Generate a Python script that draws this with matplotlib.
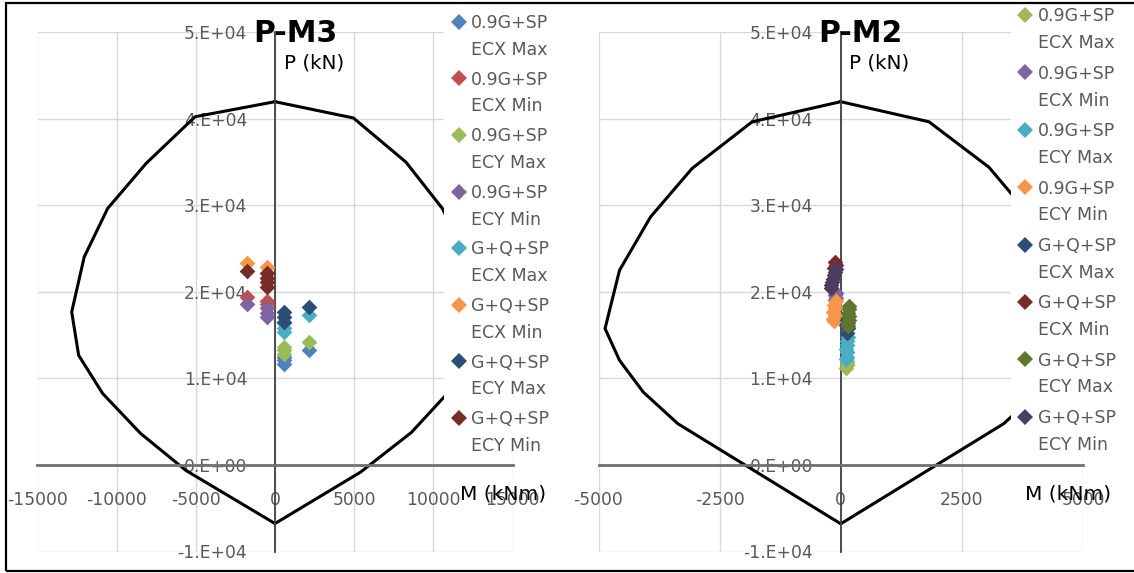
import matplotlib
matplotlib.use("Agg")
import matplotlib.pyplot as plt
from matplotlib.lines import Line2D
from matplotlib.patches import Rectangle

# ---------------- data ----------------
P_TICKS = [-10000, 0, 10000, 20000, 30000, 40000, 50000]
P_LABELS = ["-1.E+04", "0.E+00", "1.E+04", "2.E+04", "3.E+04", "4.E+04", "5.E+04"]

M3_TICKS = [-15000, -10000, -5000, 0, 5000, 10000, 15000]
M3_LABELS = ["-15000", "-10000", "-5000", "0", "5000", "10000", "15000"]
M2_TICKS = [-5000, -2500, 0, 2500, 5000]
M2_LABELS = ["-5000", "-2500", "0", "2500", "5000"]

# interaction curves
M3_curve_M = [0, 4950, 8270, 10570, 12050, 12840, 12400, 10890, 8610, 5400, 0,
              -5620, -8490, -10890, -12400, -12840, -12050, -10570, -8140, -5050, 0]
M3_curve_P = [41980, 40100, 35000, 29640, 24040, 17680, 12670, 8270, 3750, -830, -6770,
              -640, 3640, 8270, 12670, 17680, 24040, 29640, 34850, 40240, 41980]

M2_curve_M = [0, 1820, 3060, 3925, 4566, 4865, 4566, 4076, 3363, 0,
              -3363, -4076, -4566, -4865, -4566, -3925, -3068, -1828, 0]
M2_curve_P = [41980, 39660, 34400, 28670, 22500, 15760, 12090, 8420, 4770, -6800,
              4770, 8420, 12090, 15760, 22500, 28670, 34270, 39660, 41980]

# series names
labels_line1 = ["0.9G+SP", "0.9G+SP", "0.9G+SP", "0.9G+SP",
                "G+Q+SP", "G+Q+SP", "G+Q+SP", "G+Q+SP"]
labels_line2 = ["ECX Max", "ECX Min", "ECY Max", "ECY Min",
                "ECX Max", "ECX Min", "ECY Max", "ECY Min"]

# P-M3 points
M3_pts_M = [
    [560, 560, 560, 2130],
    [-1800, -490, -490],
    [560, 560, 560, 2130],
    [-1800, -490, -490, -490],
    [560, 560, 560, 2130],
    [-1800, -490],
    [560, 560, 560, 2130],
    [-1800, -490, -490, -490, -490],
]
M3_pts_P = [
    [12500, 12100, 11700, 13250],
    [19400, 19000, 18600],
    [13650, 13250, 12850, 14200],
    [18650, 18150, 17600, 17100],
    [16350, 15850, 15350, 17300],
    [23350, 22900],
    [17700, 17100, 16550, 18250],
    [22450, 22150, 21650, 21100, 20600],
]
M3_colors = ["#4F81BD", "#C0504D", "#9BBB59", "#8064A2",
             "#4BACC6", "#F79646", "#2C4D75", "#772C2A"]

# P-M2 points
M2_pts_M = [
    [120, 135, 110, 125],
    [-100, -120, -90, -110],
    [140, 125, 135, 115, 130, 120, 110],
    [-100, -130, -110, -150, -120, -160, -140],
    [130, 115, 140, 120],
    [-110, -90, -130],
    [180, 165, 150, 175, 160, 145, 155],
    [-100, -120, -140, -160, -180, -200, -210],
]
M2_pts_P = [
    [12000, 11600, 11200, 11800],
    [19900, 19600, 19300, 19100],
    [14800, 14300, 13900, 13400, 13000, 12500, 12200],
    [18900, 18500, 18100, 17700, 17300, 16900, 16600],
    [16700, 16200, 15800, 15300],
    [23400, 23100, 22800],
    [18400, 18000, 17600, 17200, 16800, 16400, 16100],
    [22700, 22300, 21900, 21500, 21100, 20800, 20500],
]
M2_colors = ["#9BBB59", "#8064A2", "#4BACC6", "#F79646",
             "#2C4D75", "#772C2A", "#5F7530", "#4D3B62"]

# ---------------- figure ----------------
W, H, DPI = 1134, 573, 100
plt.rcParams['font.family'] = ['DejaVu Sans']
fig = plt.figure(figsize=(W / DPI, H / DPI), dpi=DPI)
fig.patch.set_facecolor("white")


def fx(x):
    return x / W


def fy(y):
    return 1 - y / H


TOP, BOT = 32.3, 551.5
ax1 = fig.add_axes([fx(37.5), fy(BOT), (512.5 - 37.5) / W, (BOT - TOP) / H])
ax2 = fig.add_axes([fx(598.5), fy(BOT), (1083 - 598.5) / W, (BOT - TOP) / H])

TICK_GRAY = "#595959"


def style(ax, xticks, xlabels):
    ax.set_xlim(xticks[0], xticks[-1])
    ax.set_ylim(P_TICKS[0], P_TICKS[-1])
    ax.set_xticks(xticks)
    ax.set_xticklabels(xlabels)
    ax.set_yticks(P_TICKS)
    ax.set_yticklabels(P_LABELS)
    ax.grid(True, color="#D9D9D9", lw=1)
    ax.set_axisbelow(True)
    for s in ["top", "right"]:
        ax.spines[s].set_visible(False)
    ax.spines["left"].set_position(("data", 0))
    ax.spines["bottom"].set_position(("data", 0))
    ax.spines["bottom"].set_color("#707070")
    ax.spines["bottom"].set_linewidth(2.0)
    ax.spines["left"].set_color("#404040")
    ax.spines["left"].set_linewidth(1.3)
    ax.tick_params(length=0, labelsize=12.3, labelcolor=TICK_GRAY)
    ax.tick_params(axis="x", pad=19)
    ax.tick_params(axis="y", pad=20)
    ax.patch.set_alpha(0)


style(ax1, M3_TICKS, M3_LABELS)
style(ax2, M2_TICKS, M2_LABELS)

ax1.plot(M3_curve_M, M3_curve_P, color="black", lw=2.2, zorder=2)
ax2.plot(M2_curve_M, M2_curve_P, color="black", lw=2.2, zorder=2)

MS = 8.0
for m, p, c in zip(M3_pts_M, M3_pts_P, M3_colors):
    ax1.scatter(m, p, marker="D", s=MS ** 2, color=c, linewidths=0, zorder=3)
for m, p, c in zip(M2_pts_M, M2_pts_P, M2_colors):
    ax2.scatter(m, p, marker="D", s=MS ** 2, color=c, linewidths=0, zorder=3)

# legend background boxes (legend overlaps the plot area)
fig.add_artist(Rectangle((fx(444), fy(455)), (560 - 444) / W, (455 - 0) / H,
                         transform=fig.transFigure, fc="white", ec="none", zorder=1))
fig.add_artist(Rectangle((fx(1010.5), fy(455)), (1134 - 1010.5) / W, (455 - 0) / H,
                         transform=fig.transFigure, fc="white", ec="none", zorder=1))


def legend(colors, mx, tx, y0, pitch, gap):
    for i, c in enumerate(colors):
        y1 = y0 + i * pitch
        fig.add_artist(Line2D([fx(mx)], [fy(y1)], marker="D", ms=MS, color=c,
                              lw=0, mew=0, transform=fig.transFigure, zorder=4))
        fig.text(fx(tx), fy(y1 + 6.3), labels_line1[i], fontsize=12.5,
                 color=TICK_GRAY, va="baseline", ha="left", zorder=4)
        fig.text(fx(tx), fy(y1 + gap + 6.3), labels_line2[i], fontsize=12.5,
                 color=TICK_GRAY, va="baseline", ha="left", zorder=4)


legend(M3_colors, 459, 471, 21.7, 56.6, 26.8)
legend(M2_colors, 1025, 1038, 15.0, 57.4, 26.8)

# titles and axis titles
for cx, title in [(295.5, "P-M3"), (860.5, "P-M2")]:
    fig.text(fx(cx), fy(42.5), title, fontsize=21.5, fontweight="bold",
             color="black", ha="center", va="baseline", zorder=5)
for x0 in [283.6, 848.6]:
    fig.text(fx(x0), fy(68.5), "P (kN)", fontsize=14.3, color="black",
             ha="left", va="baseline", zorder=5)
for x0 in [460, 1025]:
    fig.text(fx(x0), fy(499), "M (kNm)", fontsize=14.5, color="black",
             ha="left", va="baseline", zorder=5)

# outer frame
fig.add_artist(Rectangle((fx(5.5), fy(571)), 1200 / W, (571 - 2.5) / H,
                         transform=fig.transFigure, fill=False, ec="black",
                         lw=1.6, zorder=6))

fig.savefig("out.png", dpi=DPI)
